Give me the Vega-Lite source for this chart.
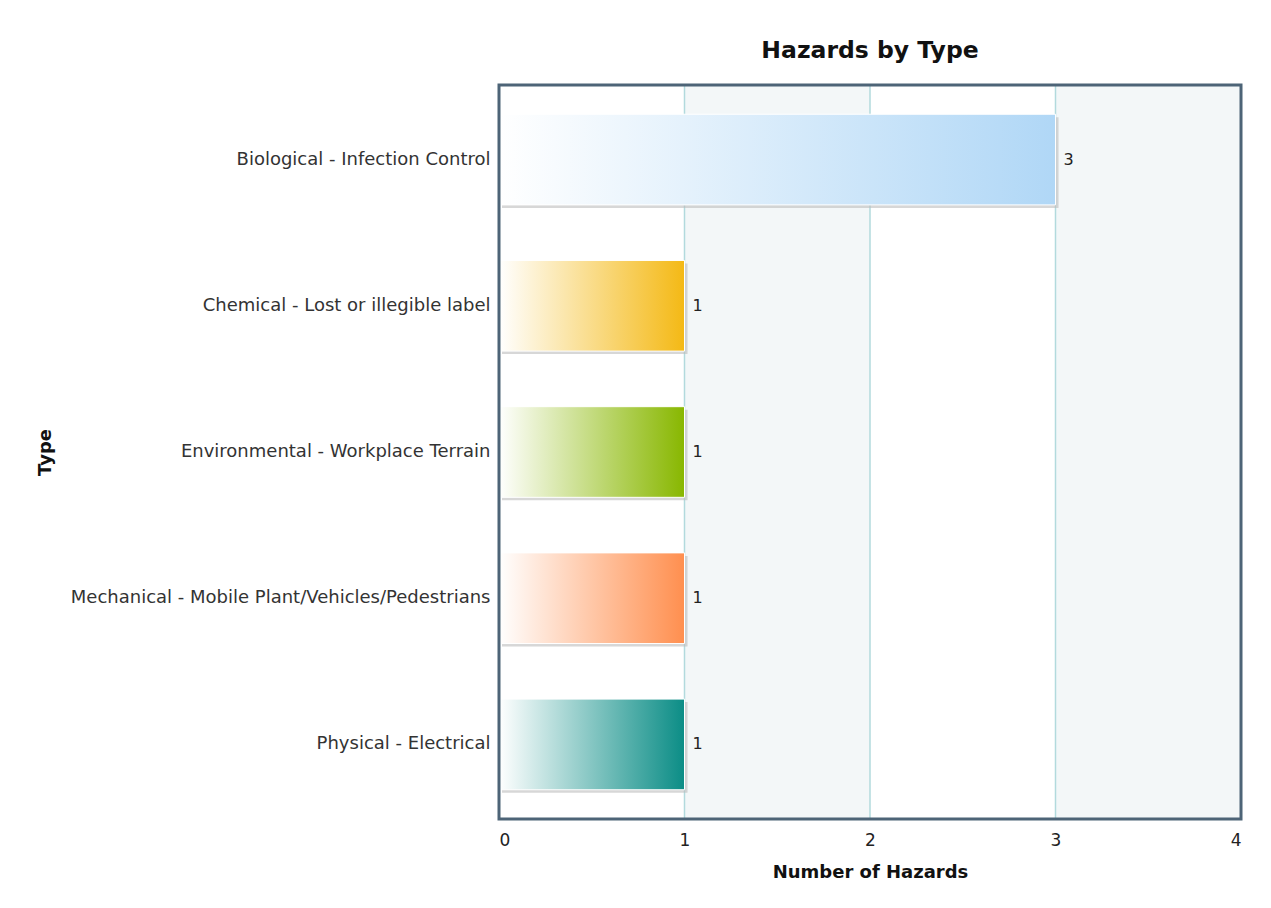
{
  "$schema": "https://vega.github.io/schema/vega-lite/v6.json",
  "autosize": "none",
  "padding": {"left": 499, "top": 85, "right": 30, "bottom": 88},
  "width": 742,
  "height": 734,
  "background": "#ffffff",
  "title": {"text": "Hazards by Type", "fontSize": 23.5, "font": "DejaVu Sans", "fontWeight": "bold", "color": "#111111", "anchor": "middle", "offset": 21},
  "config": {
    "view": {"stroke": null},
    "font": "DejaVu Sans"
  },
  "datasets": {
    "hazards": [
      {"type": "Biological - Infection Control", "count": 3},
      {"type": "Chemical - Lost or illegible label", "count": 1},
      {"type": "Environmental - Workplace Terrain", "count": 1},
      {"type": "Mechanical - Mobile Plant/Vehicles/Pedestrians", "count": 1},
      {"type": "Physical - Electrical", "count": 1}
    ],
    "bands": [
      {"start": 1, "end": 2},
      {"start": 3, "end": 4}
    ],
    "gridlines": [
      {"value": 1},
      {"value": 2},
      {"value": 3}
    ],
    "frame": [
      {"start": 0, "end": 4}
    ]
  },
  "layer": [
    {
      "data": {"name": "bands"},
      "mark": {"type": "rect", "color": "#f3f7f8"},
      "encoding": {
        "x": {"field": "start", "type": "quantitative", "scale": {"domain": [0, 4], "nice": false}},
        "x2": {"field": "end"}
      }
    },
    {
      "data": {"name": "gridlines"},
      "mark": {"type": "rule", "color": "#b2dadd", "strokeWidth": 1.5},
      "encoding": {
        "x": {"field": "value", "type": "quantitative"}
      }
    },
    {
      "data": {"name": "hazards"},
      "encoding": {
        "y": {
          "field": "type", "type": "nominal", "sort": null,
          "scale": {"paddingInner": 0.38, "paddingOuter": 0.2},
          "title": "Type",
          "axis": {
            "ticks": false, "domain": false, "labelPadding": 9, "labelFontSize": 18,
            "labelColor": "#333333", "titleFontSize": 18, "titleFontWeight": "bold",
            "titleColor": "#111111", "titleX": -454, "titleY": 367, "titleAngle": -90,
            "titleAlign": "center", "titleBaseline": "middle", "labelLimit": 700
          }
        },
        "x": {
          "field": "count", "type": "quantitative",
          "scale": {"domain": [0, 4], "nice": false},
          "title": "Number of Hazards",
          "axis": {
            "values": [0, 1, 2, 3, 4], "format": "d", "grid": false,
            "ticks": false, "domain": false, "labelPadding": 13,
            "labelFontSize": 17, "labelColor": "#222222", "titleFontSize": 18,
            "titleFontWeight": "bold", "titleColor": "#111111", "titlePadding": 15
          }
        }
      },
      "layer": [
        {
          "mark": {"type": "bar", "color": "#bdbdbd", "opacity": 0.6, "xOffset": 3, "yOffset": 3}
        },
        {
          "transform": [{"filter": "datum.type === 'Biological - Infection Control'"}],
          "mark": {"type": "bar", "stroke": "#ffffff", "strokeWidth": 1,
            "color": {"gradient": "linear", "x1": 0, "y1": 0, "x2": 1, "y2": 0, "stops": [{"offset": 0, "color": "#ffffff"}, {"offset": 1, "color": "#b0d7f6"}]}}
        },
        {
          "transform": [{"filter": "datum.type === 'Chemical - Lost or illegible label'"}],
          "mark": {"type": "bar", "stroke": "#ffffff", "strokeWidth": 1,
            "color": {"gradient": "linear", "x1": 0, "y1": 0, "x2": 1, "y2": 0, "stops": [{"offset": 0, "color": "#ffffff"}, {"offset": 1, "color": "#f4b915"}]}}
        },
        {
          "transform": [{"filter": "datum.type === 'Environmental - Workplace Terrain'"}],
          "mark": {"type": "bar", "stroke": "#ffffff", "strokeWidth": 1,
            "color": {"gradient": "linear", "x1": 0, "y1": 0, "x2": 1, "y2": 0, "stops": [{"offset": 0, "color": "#ffffff"}, {"offset": 1, "color": "#88b700"}]}}
        },
        {
          "transform": [{"filter": "datum.type === 'Mechanical - Mobile Plant/Vehicles/Pedestrians'"}],
          "mark": {"type": "bar", "stroke": "#ffffff", "strokeWidth": 1,
            "color": {"gradient": "linear", "x1": 0, "y1": 0, "x2": 1, "y2": 0, "stops": [{"offset": 0, "color": "#ffffff"}, {"offset": 1, "color": "#ff8f4f"}]}}
        },
        {
          "transform": [{"filter": "datum.type === 'Physical - Electrical'"}],
          "mark": {"type": "bar", "stroke": "#ffffff", "strokeWidth": 1,
            "color": {"gradient": "linear", "x1": 0, "y1": 0, "x2": 1, "y2": 0, "stops": [{"offset": 0, "color": "#ffffff"}, {"offset": 1, "color": "#0b8d86"}]}}
        },
        {
          "mark": {"type": "text", "align": "left", "baseline": "middle", "dx": 8, "fontSize": 16, "color": "#222222"},
          "encoding": {
            "text": {"field": "count", "type": "quantitative"}
          }
        }
      ]
    },
    {
      "data": {"name": "frame"},
      "mark": {"type": "rect", "fill": null, "fillOpacity": 0, "stroke": "#4d6477", "strokeWidth": 3},
      "encoding": {
        "x": {"field": "start", "type": "quantitative"},
        "x2": {"field": "end"}
      }
    }
  ]
}
